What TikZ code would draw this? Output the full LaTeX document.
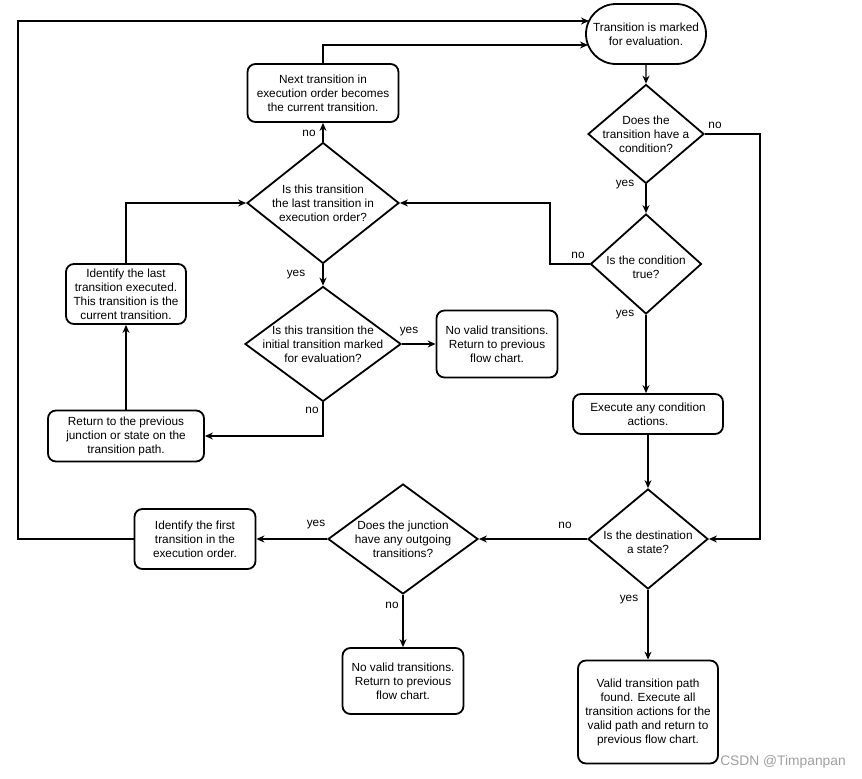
\documentclass[tikz,border=0pt]{standalone}
\usepackage{fontspec}
\setmainfont{Liberation Sans}
\usetikzlibrary{shapes.geometric,shapes.misc,arrows.meta}

\begin{document}
\begin{tikzpicture}[
    x=1pt, y=-1pt,
    >={Stealth[length=8pt,width=7pt]},
    every node/.style={font=\fontsize{11.8}{14}\selectfont},
    terminal/.style={rounded rectangle, draw, line width=1.8pt,
      minimum width=120pt, minimum height=60pt, inner sep=0pt, align=center},
    process/.style={rectangle, rounded corners=8pt, draw, line width=1.8pt,
      inner sep=0pt, align=center},
    decision/.style={diamond, draw, line width=1.8pt, inner sep=0pt},
    qtext/.style={align=center},
    lbl/.style={inner sep=0pt},
    flow/.style={->, line width=1.2pt}
  ]

    \useasboundingbox (0,0) rectangle (862,779);

    % Right column -------------------------------------------------
    \node[terminal] (start) at (646,34) {Transition is marked\\for evaluation.};
    \node[decision, minimum width=116pt, minimum height=99pt,
      label={[qtext]center:Does the\\transition have a\\condition?}] (cond) at (646,134) {};
    \node[decision, minimum width=111pt, minimum height=100pt,
      label={[qtext, yshift=-3pt]center:Is the condition\\true?}] (true) at (646,264) {};
    \node[process, minimum width=150pt, minimum height=40pt] (exec) at (648,414)
      {Execute any condition\\actions.};
    \node[decision, minimum width=120pt, minimum height=100pt,
      label={[qtext, yshift=-3pt]center:Is the destination\\a state?}] (dest) at (648,539) {};
    \node[process, minimum width=140pt, minimum height=103pt] (valid) at (648,712)
      {Valid transition path\\found. Execute all\\transition actions for the\\valid path and return to\\previous flow chart.};

    % Bottom row ---------------------------------------------------
    \node[decision, minimum width=150pt, minimum height=110pt,
      label={[qtext]center:Does the junction\\have any outgoing\\transitions?}] (junc) at (403,539) {};
    \node[process, minimum width=121pt, minimum height=60pt] (first) at (195,539)
      {Identify the first\\transition in the\\execution order.};
    \node[process, minimum width=121pt, minimum height=66pt] (novalidB) at (403,681)
      {No valid transitions.\\Return to previous\\flow chart.};

    % Middle column ------------------------------------------------
    \node[process, minimum width=151pt, minimum height=58pt] (next) at (323,93)
      {Next transition in\\execution order becomes\\the current transition.};
    \node[decision, minimum width=152pt, minimum height=121pt,
      label={[qtext]center:Is this transition\\the last transition in\\execution order?}] (last) at (323,203) {};
    \node[decision, minimum width=156pt, minimum height=115pt,
      label={[qtext]center:Is this transition the\\initial transition marked\\for evaluation?}] (init) at (323,344) {};
    \node[process, minimum width=121pt, minimum height=67pt] (novalidA) at (497,344)
      {No valid transitions.\\Return to previous\\flow chart.};

    % Left column --------------------------------------------------
    \node[process, minimum width=120pt, minimum height=60pt] (ident) at (126,294)
      {Identify the last\\transition executed.\\This transition is the\\current transition.};
    \node[process, minimum width=156pt, minimum height=51pt] (ret) at (126,436)
      {Return to the previous\\junction or state on the\\transition path.};

    % Rail points --------------------------------------------------
    \coordinate (start-in1) at (589,21);
    \coordinate (start-in2) at (588,45);
    \coordinate (rail-l) at (18,21);
    \coordinate (rail-r) at (760,539);
    \coordinate (rail-m) at (550,264);

    % Connectors ---------------------------------------------------
    \draw[flow] (start) -- (cond);
    \draw[flow] (cond) -- (true);
    \draw[flow] (cond.east) -| (rail-r) -- (dest.east);
    \draw[flow] (true.west) -- (rail-m) |- (last.east);
    \draw[flow] (true.south) -- (true.south |- exec.north);
    \draw[flow] (exec) -- (dest);
    \draw[flow] (dest) -- (valid);
    \draw[flow] (dest) -- (junc);
    \draw[flow] (junc) -- (first);
    \draw[flow] (junc) -- (novalidB);
    \draw[flow] (first.west) -| (rail-l) -- (start-in1);
    \draw[flow] (next.north) |- (start-in2);
    \draw[flow] (last) -- (next);
    \draw[flow] (last) -- (init);
    \draw[flow] (init) -- (novalidA);
    \draw[flow] (init.south) |- (ret.east);
    \draw[flow] (ret) -- (ident);
    \draw[flow] (ident.north) |- (last.west);

    % Branch labels ------------------------------------------------
    \node[lbl] (cond-no) at (715,125) {no};
    \node[lbl] (cond-yes) at (625,185) {yes};
    \node[lbl] (true-no) at (578,255) {no};
    \node[lbl] (true-yes) at (625,315) {yes};
    \node[lbl] (dest-no) at (565,525) {no};
    \node[lbl] (dest-yes) at (629,600) {yes};
    \node[lbl] (junc-yes) at (316,525) {yes};
    \node[lbl] (junc-no) at (392,605) {no};
    \node[lbl] (last-no) at (309,133) {no};
    \node[lbl] (last-yes) at (296,275) {yes};
    \node[lbl] (init-yes) at (409,332) {yes};
    \node[lbl] (init-no) at (312,410) {no};

    % Watermark
    \node[text=gray!75, font=\fontsize{13.8}{16}\selectfont] (mark) at (783,762) {CSDN @Timpanpan};

  \end{tikzpicture}
\end{document}
